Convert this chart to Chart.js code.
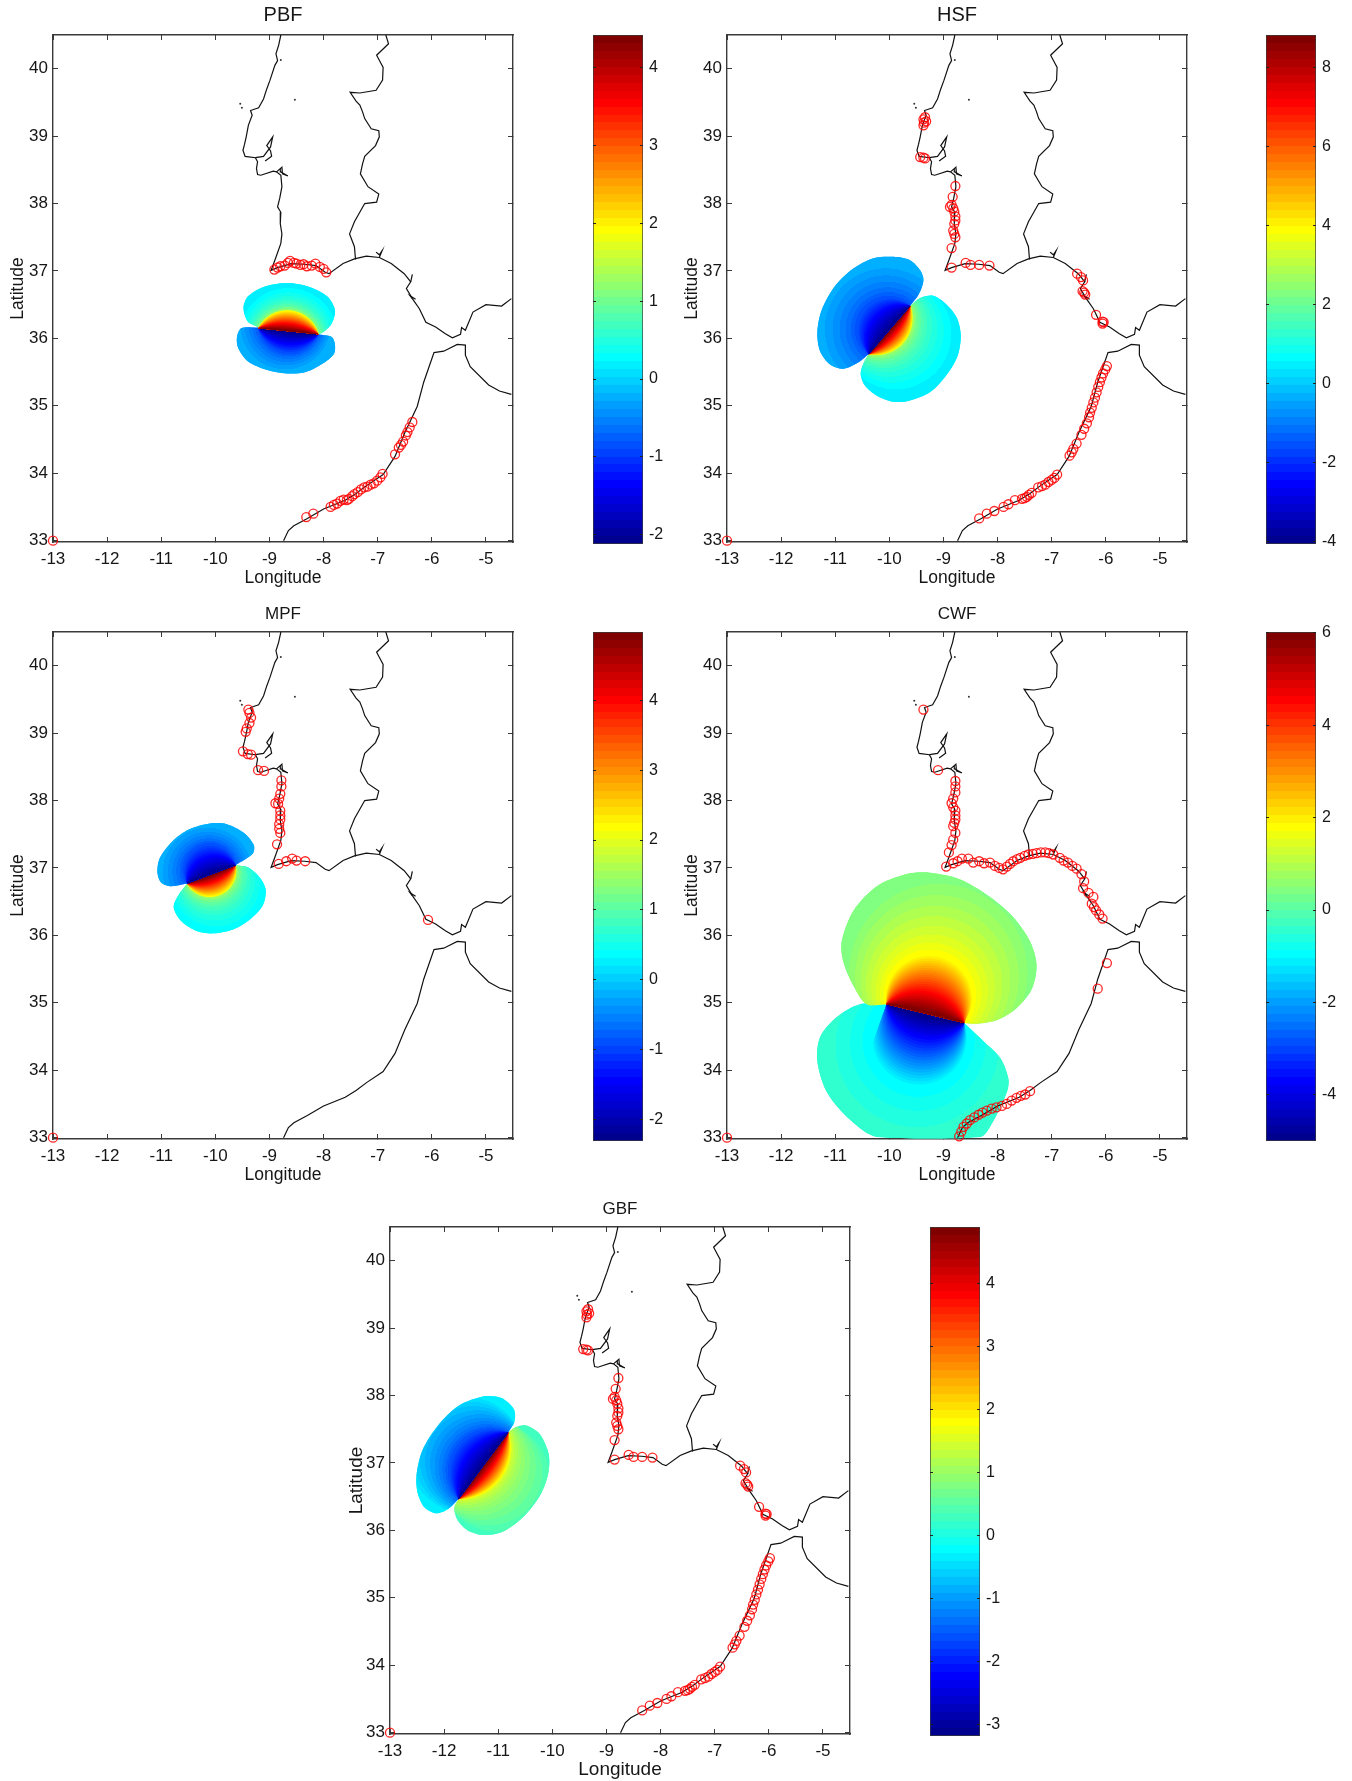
<!DOCTYPE html>
<html>
<head>
<meta charset="utf-8">
<title>Tsunami source maps</title>
<script src="https://cdn.jsdelivr.net/npm/chart.js@4/dist/chart.umd.min.js"></script>
<style>
  html, body { margin: 0; background: #fff; }
  #page { position: relative; width: 1352px; height: 1781px; overflow: hidden; }
  canvas { position: absolute; }
</style>
</head>
<body>
<div id="page"></div>
<script>
// coastlines, [lon, lat]
const coastWest = [[-8.79,40.50],[-8.83,40.35],[-8.88,40.22],[-8.85,40.12],[-8.90,40.05],[-8.99,39.83],[-9.05,39.70],[-9.11,39.55],[-9.20,39.42],[-9.35,39.38],[-9.32,39.31],[-9.39,39.16],[-9.43,38.99],[-9.46,38.88],[-9.49,38.79],[-9.45,38.70],[-9.26,38.68],[-9.22,38.62],[-9.24,38.52],[-9.22,38.43],[-9.16,38.42],[-8.93,38.48],[-8.87,38.47],[-8.79,38.42],[-8.77,38.25],[-8.81,38.08],[-8.85,37.95],[-8.79,37.87],[-8.80,37.70],[-8.77,37.55],[-8.79,37.41],[-8.90,37.16],[-8.97,37.01],[-8.85,37.05],[-8.60,37.11],[-8.35,37.10],[-8.14,37.08],[-7.97,36.98],[-7.90,36.96],[-7.64,37.11],[-7.43,37.18],[-7.21,37.22],[-6.97,37.20],[-6.75,37.11],[-6.51,36.96],[-6.39,36.84],[-6.47,36.74],[-6.36,36.59],[-6.23,36.44],[-6.11,36.24],[-5.93,36.17],[-5.75,36.07],[-5.62,36.01],[-5.47,36.06],[-5.45,36.16],[-5.38,36.12],[-5.24,36.39],[-5.00,36.50],[-4.71,36.48],[-4.53,36.59]];
const coastBorder = [[-6.85,40.50],[-6.80,40.37],[-7.02,40.20],[-6.90,40.02],[-6.91,39.83],[-7.03,39.68],[-7.33,39.64],[-7.51,39.65],[-7.40,39.52],[-7.33,39.46],[-7.28,39.36],[-7.24,39.26],[-7.12,39.11],[-6.98,39.08],[-6.97,38.99],[-7.04,38.86],[-7.24,38.70],[-7.28,38.59],[-7.32,38.44],[-7.18,38.25],[-6.98,38.14],[-7.02,38.02],[-7.24,38.00],[-7.43,37.73],[-7.52,37.55],[-7.43,37.36],[-7.41,37.17]];
const coastMorocco = [[-8.74,33.00],[-8.65,33.15],[-8.55,33.22],[-8.30,33.33],[-8.00,33.47],[-7.60,33.60],[-7.40,33.70],[-7.20,33.82],[-6.90,33.98],[-6.68,34.25],[-6.50,34.60],[-6.27,34.99],[-6.15,35.35],[-5.96,35.79],[-5.78,35.81],[-5.53,35.91],[-5.38,35.90],[-5.38,35.75],[-5.29,35.58],[-4.95,35.31],[-4.75,35.22],[-4.53,35.17]];
const tagusSpur = [[-9.26,38.68],[-9.11,38.70],[-8.98,38.84],[-8.94,38.99],[-9.05,38.86],[-8.98,38.78],[-8.96,38.70],[-9.08,38.63]];
const sadoSpur = [[-8.87,38.47],[-8.77,38.54],[-8.76,38.44],[-8.66,38.41],[-8.79,38.47],[-8.80,38.52]];
const faroSpur = [[-6.97,37.20],[-6.92,37.30],[-6.97,37.24],[-7.03,37.28]];
const huelvaSpur = [[-6.39,36.84],[-6.36,36.95]];
const cadizSpur = [[-6.36,36.59],[-6.40,36.63],[-6.30,36.58]];
const islets = [[-9.54,39.48],[-9.51,39.42],[-8.53,39.54],[-8.79,40.13]];

// tide stations, read per panel
const stationsPbf = [[-13,33],[-8.91,37.02],[-8.85,37.05],[-8.80,37.07],[-8.72,37.08],[-8.66,37.12],[-8.62,37.15],[-8.55,37.12],[-8.50,37.11],[-8.43,37.09],[-8.37,37.10],[-8.31,37.07],[-8.22,37.08],[-8.15,37.11],[-8.07,37.06],[-8.00,37.03],[-7.95,36.98],[-8.32,33.35],[-8.19,33.40],[-7.87,33.50],[-7.81,33.53],[-7.75,33.55],[-7.69,33.59],[-7.63,33.61],[-7.57,33.60],[-7.53,33.62],[-7.47,33.66],[-7.43,33.69],[-7.37,33.72],[-7.31,33.76],[-7.25,33.79],[-7.19,33.80],[-7.13,33.83],[-7.07,33.85],[-7.01,33.89],[-6.95,33.94],[-6.91,33.99],[-6.68,34.28],[-6.61,34.38],[-6.57,34.42],[-6.53,34.47],[-6.48,34.56],[-6.45,34.61],[-6.41,34.68],[-6.36,34.76]];
const stationsHsf = [[-13,33],[-9.37,39.25],[-9.36,39.20],[-9.37,39.16],[-9.34,39.28],[-9.32,39.22],[-9.43,38.69],[-9.37,38.68],[-9.34,38.67],[-8.78,38.26],[-8.83,38.10],[-8.88,37.95],[-8.85,37.98],[-8.82,37.93],[-8.80,37.88],[-8.78,37.81],[-8.78,37.75],[-8.80,37.70],[-8.82,37.60],[-8.80,37.55],[-8.78,37.50],[-8.85,37.34],[-8.85,37.05],[-8.59,37.12],[-8.50,37.09],[-8.34,37.09],[-8.15,37.08],[-6.53,36.96],[-6.46,36.91],[-6.42,36.86],[-6.43,36.70],[-6.38,36.65],[-6.40,36.68],[-6.18,36.35],[-6.06,36.25],[-6.06,36.22],[-6.04,36.24],[-8.34,33.33],[-8.20,33.40],[-8.06,33.44],[-7.89,33.50],[-7.80,33.54],[-7.68,33.60],[-7.55,33.62],[-7.50,33.63],[-7.46,33.65],[-7.42,33.68],[-7.37,33.71],[-7.25,33.79],[-7.18,33.81],[-7.12,33.83],[-7.06,33.87],[-7.00,33.90],[-6.95,33.93],[-6.90,33.98],[-6.67,34.26],[-6.63,34.31],[-6.60,34.36],[-6.54,34.44],[-6.45,34.57],[-6.40,34.66],[-6.35,34.74],[-6.31,34.83],[-6.29,34.90],[-6.26,34.97],[-6.23,35.05],[-6.20,35.12],[-6.17,35.20],[-6.14,35.28],[-6.11,35.35],[-6.08,35.42],[-6.05,35.48],[-6.01,35.54],[-5.98,35.59]];
const stationsMpf = [[-13,33],[-9.39,39.35],[-9.37,39.30],[-9.34,39.23],[-9.37,39.15],[-9.42,39.07],[-9.44,39.02],[-9.49,38.73],[-9.40,38.69],[-9.34,38.68],[-9.21,38.45],[-9.10,38.44],[-8.78,38.30],[-8.78,38.21],[-8.80,38.10],[-8.82,38.03],[-8.89,37.96],[-8.84,37.95],[-8.80,37.85],[-8.80,37.78],[-8.80,37.72],[-8.82,37.65],[-8.82,37.58],[-8.80,37.52],[-8.86,37.35],[-8.83,37.06],[-8.69,37.10],[-8.58,37.14],[-8.50,37.11],[-8.34,37.10],[-6.07,36.23]];
const stationsCwf = [[-13,33],[-9.37,39.35],[-9.10,38.45],[-8.78,38.29],[-8.78,38.21],[-8.78,38.12],[-8.82,38.03],[-8.85,37.96],[-8.82,37.90],[-8.78,37.85],[-8.78,37.78],[-8.78,37.72],[-8.80,37.67],[-8.82,37.62],[-8.78,37.52],[-8.82,37.42],[-8.85,37.34],[-8.90,37.23],[-8.95,37.02],[-8.82,37.07],[-8.74,37.10],[-8.66,37.14],[-8.54,37.14],[-8.45,37.08],[-8.34,37.10],[-8.25,37.07],[-8.14,37.08],[-8.05,37.03],[-7.97,37.00],[-7.90,36.98],[-7.83,37.02],[-7.77,37.06],[-7.71,37.10],[-7.64,37.13],[-7.58,37.15],[-7.50,37.18],[-7.43,37.20],[-7.35,37.21],[-7.28,37.22],[-7.20,37.23],[-7.12,37.23],[-7.05,37.22],[-6.97,37.20],[-6.85,37.15],[-6.78,37.11],[-6.70,37.08],[-6.62,37.03],[-6.54,36.99],[-6.45,36.91],[-6.40,36.80],[-6.42,36.70],[-6.32,36.63],[-6.23,36.57],[-6.26,36.47],[-6.22,36.42],[-6.18,36.37],[-6.12,36.31],[-6.06,36.25],[-5.98,35.59],[-6.15,35.21],[-8.71,33.02],[-8.67,33.09],[-8.63,33.16],[-8.57,33.21],[-8.51,33.26],[-8.43,33.30],[-8.35,33.34],[-8.28,33.37],[-8.20,33.40],[-8.11,33.43],[-8.02,33.45],[-7.92,33.47],[-7.83,33.50],[-7.74,33.55],[-7.65,33.59],[-7.57,33.62],[-7.49,33.64],[-7.40,33.69]];
const stationsGbf = stationsHsf;

// lobe outlines, then [fault end, contour apex, fault end]
const pbfTopOutline = [[-9.22,36.17],[-9.40,36.25],[-9.48,36.45],[-9.40,36.62],[-9.12,36.76],[-8.68,36.82],[-8.25,36.76],[-7.93,36.62],[-7.79,36.42],[-7.85,36.22],[-8.01,36.09],[-8.11,36.06]];
const pbfTopMid = [[-9.20,36.15],[-8.67,36.41],[-8.10,36.06]];
const pbfLowOutline = [[-9.22,36.16],[-9.52,36.15],[-9.60,36.02],[-9.58,35.86],[-9.40,35.66],[-9.04,35.53],[-8.68,35.48],[-8.33,35.50],[-8.01,35.63],[-7.81,35.77],[-7.79,35.91],[-7.85,36.02],[-8.11,36.06]];
const pbfLowMid = [[-9.20,36.15],[-8.67,35.78],[-8.10,36.06]];

const hsfUpOutline = [[-10.38,35.77],[-10.60,35.63],[-10.85,35.55],[-11.09,35.61],[-11.28,35.81],[-11.33,36.09],[-11.25,36.42],[-11.00,36.78],[-10.66,37.04],[-10.29,37.19],[-9.92,37.21],[-9.62,37.16],[-9.43,37.01],[-9.37,36.86],[-9.46,36.65],[-9.62,36.48]];
const hsfUpMid = [[-10.38,35.77],[-10.42,36.47],[-9.62,36.48]];
const hsfLowOutline = [[-9.62,36.48],[-9.43,36.60],[-9.18,36.63],[-8.94,36.50],[-8.75,36.30],[-8.68,36.04],[-8.74,35.74],[-8.94,35.46],[-9.25,35.20],[-9.62,35.08],[-9.92,35.06],[-10.23,35.15],[-10.45,35.30],[-10.53,35.48],[-10.46,35.66],[-10.38,35.77]];
const hsfLowMid = [[-9.62,36.48],[-9.75,35.94],[-10.38,35.77]];

const mpfUpOutline = [[-10.52,36.77],[-10.84,36.73],[-11.00,36.78],[-11.07,36.93],[-11.03,37.14],[-10.80,37.39],[-10.49,37.57],[-10.10,37.66],[-9.79,37.65],[-9.47,37.52],[-9.29,37.34],[-9.31,37.21],[-9.63,37.04]];
const mpfUpMid = [[-10.52,36.77],[-10.23,37.34],[-9.63,37.04]];
const mpfLowOutline = [[-9.63,37.04],[-9.40,37.01],[-9.18,36.86],[-9.07,36.68],[-9.12,36.45],[-9.34,36.25],[-9.66,36.09],[-10.04,36.03],[-10.36,36.07],[-10.64,36.22],[-10.77,36.42],[-10.68,36.60],[-10.52,36.77]];
const mpfLowMid = [[-9.63,37.04],[-10.04,36.58],[-10.52,36.77]];

const cwfTopOutline = [[-10.05,34.98],[-10.42,34.98],[-10.66,35.25],[-10.85,35.61],[-10.88,35.91],[-10.66,36.37],[-10.23,36.73],[-9.68,36.91],[-9.25,36.93],[-8.69,36.83],[-8.14,36.57],[-7.71,36.27],[-7.40,35.91],[-7.28,35.56],[-7.37,35.20],[-7.65,34.92],[-8.02,34.74],[-8.38,34.69],[-8.62,34.70]];
const cwfTopMid = [[-10.05,34.98],[-9.25,35.72],[-8.62,34.70]];
const cwfLowOutline = [[-10.05,34.98],[-10.54,34.98],[-10.97,34.79],[-11.28,34.49],[-11.33,34.13],[-11.15,33.67],[-10.72,33.26],[-10.23,33.01],[-8.32,33.01],[-8.14,33.16],[-7.83,33.67],[-7.80,33.87],[-7.95,34.18],[-8.26,34.43],[-8.62,34.70]];
const cwfLowMid = [[-10.05,34.98],[-9.40,33.75],[-8.62,34.70]];

const gbfUpOutline = [[-11.73,36.47],[-11.92,36.32],[-12.14,36.25],[-12.36,36.34],[-12.49,36.56],[-12.51,36.82],[-12.40,37.19],[-12.11,37.56],[-11.73,37.85],[-11.25,37.99],[-10.93,37.96],[-10.71,37.80],[-10.70,37.61],[-10.82,37.45]];
const gbfUpMid = [[-11.73,36.47],[-11.75,37.25],[-10.82,37.45]];
const gbfLowOutline = [[-10.82,37.45],[-10.68,37.53],[-10.49,37.56],[-10.23,37.43],[-10.07,37.14],[-10.07,36.87],[-10.20,36.56],[-10.49,36.24],[-10.87,36.00],[-11.25,35.93],[-11.57,36.00],[-11.76,36.16],[-11.81,36.34],[-11.73,36.47]];
const gbfLowMid = [[-10.82,37.45],[-10.97,36.77],[-11.73,36.47]];

// jet(64), index is the colour level
const JET = ['#00008f','#00009f','#0000af','#0000bf','#0000cf','#0000df','#0000ef','#0000ff','#0010ff','#0020ff','#0030ff','#0040ff','#0050ff','#0060ff','#0070ff','#0080ff','#008fff','#009fff','#00afff','#00bfff','#00cfff','#00dfff','#00efff','#00ffff','#10ffef','#20ffdf','#30ffcf','#40ffbf','#50ffaf','#60ff9f','#70ff8f','#80ff80','#8fff70','#9fff60','#afff50','#bfff40','#cfff30','#dfff20','#efff10','#ffff00','#ffef00','#ffdf00','#ffcf00','#ffbf00','#ffaf00','#ff9f00','#ff8f00','#ff8000','#ff7000','#ff6000','#ff5000','#ff4000','#ff3000','#ff2000','#ff1000','#ff0000','#ef0000','#df0000','#cf0000','#bf0000','#af0000','#9f0000','#8f0000','#800000'];

const xTicksMin = -13, xTicksMax = -4.5, yTicksMin = 32.98, yTicksMax = 40.5;

const panels = [
    { title: 'PBF', titleSize: 20, titleTop: 3.5, left: 53.4, top: 35.2, stations: stationsPbf, labelSize: 17.5,
      lobes: [
        { outline: pbfTopOutline, mid: pbfTopMid, rim: [2, 5, 8], edge: 22, midLevel: 39, core: 63, falloff: 3.5 },
        { outline: pbfLowOutline, mid: pbfLowMid, rim: [2, 6, 11], edge: 18, midLevel: 12, core: 0, falloff: 1.5 }
      ] },
    { title: 'HSF', titleSize: 20, titleTop: 3.5, left: 727, top: 35.2, stations: stationsHsf, labelSize: 17.5,
      lobes: [
        { outline: hsfUpOutline, mid: hsfUpMid, rim: [4, 8, 12], edge: 18, midLevel: 12, core: 0, falloff: 1.5 },
        { outline: hsfLowOutline, mid: hsfLowMid, rim: [4, 7, 12], edge: 22, midLevel: 39, core: 63, falloff: 3.5 }
      ] },
    { title: 'MPF', titleSize: 17, titleTop: 7.4, left: 53.4, top: 631.7, stations: stationsMpf, labelSize: 17.5,
      lobes: [
        { outline: mpfUpOutline, mid: mpfUpMid, rim: [3, 7, 11], edge: 18, midLevel: 12, core: 0, falloff: 1.5 },
        { outline: mpfLowOutline, mid: mpfLowMid, rim: [3, 7, 10], edge: 23, midLevel: 39, core: 63, falloff: 3.5 }
      ] },
    { title: 'CWF', titleSize: 17, titleTop: 7.4, left: 727, top: 631.7, stations: stationsCwf, labelSize: 17.5,
      lobes: [
        { outline: cwfTopOutline, mid: cwfTopMid, rim: [3, 8, 13], edge: 31, midLevel: 39, core: 63, falloff: 1.3 },
        { outline: cwfLowOutline, mid: cwfLowMid, rim: [3, 7, 11], edge: 26, midLevel: 23, core: 0, falloff: 1.3 }
      ] },
    { title: 'GBF', titleSize: 17, titleTop: 7.4, left: 389.7, top: 1227, stations: stationsGbf, labelSize: 19,
      lobes: [
        { outline: gbfUpOutline, mid: gbfUpMid, rim: [4, 9, 12], edge: 22, midLevel: 12, core: 0, falloff: 1.5 },
        { outline: gbfLowOutline, mid: gbfLowMid, rim: [4, 9, 12], edge: 27, midLevel: 39, core: 63, falloff: 2.4 }
      ] }
];

const colorbars = [
    { left: 593, top: 35.2, min: -2.12, max: 4.42, step: 1 },
    { left: 1266, top: 35.2, min: -4.06, max: 8.83, step: 2 },
    { left: 593, top: 631.7, min: -2.31, max: 4.98, step: 1 },
    { left: 1266, top: 631.7, min: -5.0, max: 6.02, step: 2 },
    { left: 929.5, top: 1227, min: -3.18, max: 4.9, step: 1 }
];

const PLOT_W = 460, PLOT_H = 507, MARGIN_L = 53, MARGIN_B = 51, MARGIN_T = 35;
const FRAME = '#3a3a3a', INK = '#161616';

Chart.defaults.font.family = '"Liberation Sans", Arial, sans-serif';
Chart.defaults.color = INK;

const toXY = pts => pts.map(p => ({ x: p[0], y: p[1] }));

function toPixel(chart, p) {
    return { x: chart.scales.x.getPixelForValue(p[0]), y: chart.scales.y.getPixelForValue(p[1]) };
}

function circleThrough(a, b, c) {
    const d = 2 * (a.x * (b.y - c.y) + b.x * (c.y - a.y) + c.x * (a.y - b.y));
    const sa = a.x * a.x + a.y * a.y, sb = b.x * b.x + b.y * b.y, sc = c.x * c.x + c.y * c.y;
    const x = (sa * (b.y - c.y) + sb * (c.y - a.y) + sc * (a.y - b.y)) / d;
    const y = (sa * (c.x - b.x) + sb * (a.x - c.x) + sc * (b.x - a.x)) / d;
    return { x, y, r: Math.hypot(a.x - x, a.y - y) };
}

// arc through both fault ends, closer to the fault as share goes down
function faultCircle(chart, lobe, share) {
    const m = lobe.mid;
    const a = toPixel(chart, m[0]), b = toPixel(chart, m[2]), top = toPixel(chart, m[1]);
    const cx = (a.x + b.x) / 2, cy = (a.y + b.y) / 2;
    return circleThrough(a, b, { x: cx + (top.x - cx) * share, y: cy + (top.y - cy) * share });
}

// contour bands from the rim in to the fault arc, hard stops like contourf
function rimFill(lobe) {
    return function(c) {
        const chart = c.chart;
        if (!chart.chartArea) return JET[lobe.edge];
        const o = lobe.outline;
        const rim = circleThrough(toPixel(chart, o[lobe.rim[0]]), toPixel(chart, o[lobe.rim[1]]), toPixel(chart, o[lobe.rim[2]]));
        const inner = faultCircle(chart, lobe, 1);
        const g = chart.ctx.createRadialGradient(rim.x, rim.y, rim.r, inner.x, inner.y, inner.r);
        const n = Math.abs(lobe.midLevel - lobe.edge) + 1;
        const dir = lobe.midLevel >= lobe.edge ? 1 : -1;
        for (let k = 0; k < n; k++) {
            const col = JET[lobe.edge + dir * k];
            g.addColorStop(1 - Math.pow(1 - k / n, lobe.falloff), col);
            g.addColorStop(1 - Math.pow(1 - (k + 1) / n, lobe.falloff), col);
        }
        return g;
    };
}

// one colour level: solid disc, the alpha edge keeps the level's own colour
function discFill(lobe, level, share) {
    return function(c) {
        const chart = c.chart;
        if (!chart.chartArea) return 'transparent';
        const d = faultCircle(chart, lobe, share);
        const g = chart.ctx.createRadialGradient(d.x, d.y, 0, d.x, d.y, d.r + 0.8);
        g.addColorStop(0, JET[level]);
        g.addColorStop(d.r / (d.r + 0.8), JET[level]);
        g.addColorStop(1, JET[level] + '00');
        return g;
    };
}

// area on the lobe side of the fault, the discs are cut to this
function faultSideMask(lobe) {
    const [a, top, b] = lobe.mid;
    const mx = (a[0] + b[0]) / 2, my = (a[1] + b[1]) / 2;
    const ux = (top[0] - mx) * 2.2, uy = (top[1] - my) * 2.2;
    const wx = (a[0] - b[0]) * 0.6, wy = (a[1] - b[1]) * 0.6;
    return [a, [a[0] + ux + wx, a[1] + uy + wy], [b[0] + ux - wx, b[1] + uy - wy], b];
}

function polygon(points, fillColor, tension) {
    return {
        data: toXY(points), showLine: true, fill: 'shape', tension,
        backgroundColor: fillColor, borderWidth: 0, borderColor: 'transparent', pointRadius: 0
    };
}

function coastLine(points) {
    return { data: toXY(points), showLine: true, fill: false, borderColor: '#111', borderWidth: 1.2, pointRadius: 0, tension: 0 };
}

function buildMapDatasets(panel) {
    const sets = [{
        data: toXY(panel.stations), showLine: false, clip: false,
        pointRadius: 4.5, pointBorderWidth: 1.3, pointBorderColor: 'rgba(255,0,0,0.85)', pointBackgroundColor: 'transparent'
    }, {
        data: toXY(islets), showLine: false, pointRadius: 1, pointBorderWidth: 0, pointBackgroundColor: '#333'
    }];
    [coastWest, coastBorder, coastMorocco, tagusSpur, sadoSpur, faroSpur, huelvaSpur, cadizSpur].forEach(c => sets.push(coastLine(c)));
    panel.lobes.forEach(l => {
        // first dataset ends up on top, so the core level goes in first
        const n = Math.abs(l.core - l.midLevel);
        const dir = l.core >= l.midLevel ? 1 : -1;
        const mask = faultSideMask(l);
        for (let k = n; k >= 0; k--) {
            sets.push(polygon(mask, discFill(l, l.midLevel + dir * k, 1 - 0.94 * k / n), 0));
        }
        sets.push(polygon(l.outline, rimFill(l), 0.3));
        sets.push(polygon(l.outline, JET[l.edge], 0.3));
    });
    return sets;
}

function boxAxis(position, min, max, size) {
    return {
        type: 'linear', position, min, max,
        afterFit(s) { if (s.isHorizontal()) s.height = size; else s.width = size; },
        border: { display: true, color: FRAME, width: 1.4 },
        grid: { drawOnChartArea: false, color: FRAME, tickLength: -5, lineWidth: 1 },
        ticks: { display: false, stepSize: 1, includeBounds: false, autoSkip: false, maxRotation: 0 }
    };
}

function addCanvas(left, top, w, h) {
    const cv = document.createElement('canvas');
    cv.width = w;
    cv.height = h;
    cv.style.left = left + 'px';
    cv.style.top = top + 'px';
    cv.style.width = w + 'px';
    cv.style.height = h + 'px';
    document.getElementById('page').appendChild(cv);
    return cv.getContext('2d');
}

function drawMap(panel) {
    const w = MARGIN_L * 2 + PLOT_W, h = MARGIN_T + PLOT_H + MARGIN_B;
    const ctx = addCanvas(panel.left - MARGIN_L, panel.top - MARGIN_T, w, h);

    const x = boxAxis('bottom', xTicksMin, xTicksMax, MARGIN_B);
    x.ticks = { ...x.ticks, display: true, padding: 12, font: { size: 17 }, color: INK };
    x.title = { display: true, text: 'Longitude', color: INK, font: { size: panel.labelSize }, padding: { top: 4, bottom: 4 } };
    const y = boxAxis('left', yTicksMin, yTicksMax, MARGIN_L);
    y.ticks = { ...y.ticks, display: true, padding: 10, font: { size: 17 }, color: INK };
    y.title = { display: true, text: 'Latitude', color: INK, font: { size: panel.labelSize }, padding: { top: 8, bottom: 4 } };

    new Chart(ctx, {
        type: 'scatter',
        data: { datasets: buildMapDatasets(panel) },
        options: {
            responsive: false, animation: false, events: [],
            layout: { autoPadding: false },
            plugins: {
                legend: { display: false }, tooltip: { enabled: false },
                title: {
                    display: true, text: panel.title, color: INK,
                    font: { size: panel.titleSize, weight: 'normal' },
                    padding: { top: panel.titleTop, bottom: MARGIN_T - panel.titleSize * 1.2 - panel.titleTop }
                }
            },
            scales: {
                x, y,
                xTop: boxAxis('top', xTicksMin, xTicksMax, 0),
                yRight: boxAxis('right', yTicksMin, yTicksMax, MARGIN_L)
            }
        }
    });
}

function jetGradient(c) {
    const a = c.chart.chartArea;
    if (!a) return JET[32];
    const g = c.chart.ctx.createLinearGradient(0, a.bottom, 0, a.top);
    JET.forEach((col, i) => {
        g.addColorStop(i / JET.length, col);
        g.addColorStop((i + 1) / JET.length, col);
    });
    return g;
}

function drawColorbar(bar) {
    const BAR_W = 50, PAD = 5, RIGHT = 32;
    const ctx = addCanvas(bar.left - PAD, bar.top - MARGIN_T, BAR_W + PAD + RIGHT, MARGIN_T + PLOT_H + 25);
    const tickAxis = (position, size, show) => ({
        type: 'linear', position, min: bar.min, max: bar.max,
        afterFit(s) { s.width = size; },
        border: { display: false },
        grid: { drawOnChartArea: false, color: '#222', tickLength: -3, z: 1 },
        ticks: { display: show, stepSize: bar.step, includeBounds: false, autoSkip: false, padding: 9, font: { size: 16 }, color: INK }
    });
    new Chart(ctx, {
        type: 'bar',
        data: {
            labels: ['scale'],
            datasets: [{
                data: [[bar.min, bar.max]], backgroundColor: jetGradient,
                borderColor: FRAME, borderWidth: 1, borderSkipped: false,
                categoryPercentage: 1, barPercentage: 1, yAxisID: 'y'
            }]
        },
        options: {
            responsive: false, animation: false, events: [],
            layout: { autoPadding: false, padding: { top: MARGIN_T, bottom: 23 } },
            plugins: { legend: { display: false }, tooltip: { enabled: false } },
            scales: {
                x: { display: false },
                y: tickAxis('right', RIGHT, true),
                yLeft: tickAxis('left', PAD, false)
            }
        }
    });
}

panels.forEach(drawMap);
colorbars.forEach(drawColorbar);
</script>
</body>
</html>
